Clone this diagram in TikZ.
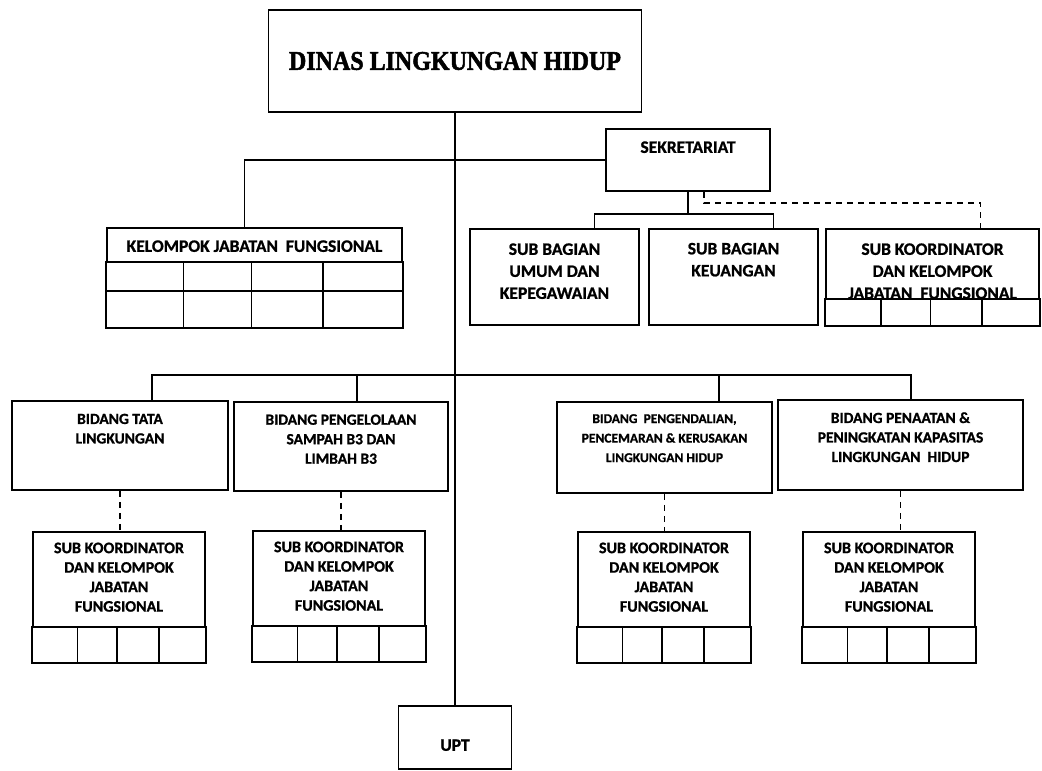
\documentclass[tikz,border=0pt]{standalone}
\usepackage{fontspec}
\usepackage{graphicx}
\setmainfont{Carlito}[BoldFeatures={FakeBold=1}]
\newfontfamily\judulfont{Liberation Serif}[BoldFeatures={FakeBold=2}]
\usetikzlibrary{calc}

% baris petak kosong di bawah kotak jabatan fungsional
\newcommand{\petak}[2]{%
  \filldraw[fill=white, line width=1.6pt] ([yshift=#2pt]#1.south west) rectangle (#1.south east);
  \foreach \f in {0.26,0.49,0.73}
    \draw[line width=1.6pt] ($(#1.south west)!\f!(#1.south east)$) -- ++(0,-#2);
}

\begin{document}
\begin{tikzpicture}[x=1pt, y=-1pt,
    kotak/.style={draw, line width=1.6pt, inner sep=0pt},
    atas/.style={font=\fontsize{17.5}{22}\selectfont\bfseries, align=center, inner sep=0pt},
    bawah/.style={font=\fontsize{16}{19.5}\selectfont\bfseries, align=center, inner sep=0pt},
    bidang/.style={font=\fontsize{15.5}{19.5}\selectfont\bfseries, align=center, inner sep=0pt},
    putus/.style={line width=1.4pt, dash pattern=on 6pt off 5pt},
    garis/.style={line width=1.6pt}]

  \useasboundingbox (0,0) rectangle (1042,771);

  % pimpinan
  \node[kotak, minimum width=373pt, minimum height=102pt,
    font=\judulfont\fontsize{24}{26}\selectfont\bfseries] (dinas) at (455,61)
    {\scalebox{1}[1.12]{DINAS LINGKUNGAN HIDUP}};

  % sekretariat
  \node[kotak, minimum width=164pt, minimum height=62pt] (sekre) at (688,160) {};
  \node[atas] (sekreT) at ([yshift=-19pt]sekre.north) {SEKRETARIAT};

  \node[kotak, minimum width=169pt, minimum height=96pt] (sbu) at (554.5,277) {};
  \node[atas] (sbuT) at ([yshift=-43pt]sbu.north) {SUB BAGIAN\\UMUM DAN\\KEPEGAWAIAN};
  \node[kotak, minimum width=169pt, minimum height=96pt] (sbk) at (733.5,277) {};
  \node[atas] (sbkT) at ([yshift=-31.5pt]sbk.north) {SUB BAGIAN\\KEUANGAN};
  \node[kotak, minimum width=213pt, minimum height=96pt] (skjf) at (932.5,277) {};
  \node[atas] (skjfT) at ([yshift=-43pt]skjf.north) {SUB KOORDINATOR\\DAN KELOMPOK\\JABATAN\ \ FUNGSIONAL};
  \petak{skjf}{27}

  % kelompok jabatan fungsional
  \node[kotak, minimum width=295pt, minimum height=99pt] (kjf) at (254.5,277.5) {};
  \node[atas] (kjfT) at ([yshift=-19pt]kjf.north) {KELOMPOK JABATAN\ \ FUNGSIONAL};
  \petak{kjf}{66}
  \draw[garis] ([yshift=37pt]kjf.south west) -- ([yshift=37pt]kjf.south east);

  % bidang
  \node[kotak, minimum width=216pt, minimum height=89pt] (tata) at (120,445.5) {};
  \node[bidang] (tataT) at ([yshift=-28.5pt]tata.north) {BIDANG TATA\\LINGKUNGAN};
  \node[kotak, minimum width=214pt, minimum height=89pt] (sampah) at (341,446.5) {};
  \node[bidang] (sampahT) at ([yshift=-38pt]sampah.north) {BIDANG PENGELOLAAN\\SAMPAH B3 DAN\\LIMBAH B3};
  \node[kotak, minimum width=215pt, minimum height=91pt] (kendali) at (664.5,447.5) {};
  \node[bidang, font=\fontsize{13.5}{19.5}\selectfont\bfseries] (kendaliT) at ([yshift=-37pt]kendali.north)
    {BIDANG\ \ PENGENDALIAN,\\PENCEMARAN \& KERUSAKAN\\LINGKUNGAN HIDUP};
  \node[kotak, minimum width=245pt, minimum height=90pt] (taat) at (900.5,445) {};
  \node[bidang] (taatT) at ([yshift=-38pt]taat.north) {BIDANG PENAATAN \&\\PENINGKATAN KAPASITAS\\LINGKUNGAN\ \ HIDUP};

  % sub koordinator
  \node[kotak, minimum width=172pt, minimum height=130pt] (sk1) at (119,597) {};
  \node[bawah] (sk1T) at ([yshift=-46pt]sk1.north) {SUB KOORDINATOR\\DAN KELOMPOK\\JABATAN\\FUNGSIONAL};
  \petak{sk1}{36}
  \node[kotak, minimum width=172pt, minimum height=130pt] (sk2) at (339,596) {};
  \node[bawah] (sk2T) at ([yshift=-46pt]sk2.north) {SUB KOORDINATOR\\DAN KELOMPOK\\JABATAN\\FUNGSIONAL};
  \petak{sk2}{36}
  \node[kotak, minimum width=172pt, minimum height=130pt] (sk3) at (664,597) {};
  \node[bawah] (sk3T) at ([yshift=-46pt]sk3.north) {SUB KOORDINATOR\\DAN KELOMPOK\\JABATAN\\FUNGSIONAL};
  \petak{sk3}{36}
  \node[kotak, minimum width=172pt, minimum height=130pt] (sk4) at (889,597) {};
  \node[bawah] (sk4T) at ([yshift=-46pt]sk4.north) {SUB KOORDINATOR\\DAN KELOMPOK\\JABATAN\\FUNGSIONAL};
  \petak{sk4}{36}

  % upt
  \node[kotak, minimum width=113pt, minimum height=63pt] (upt) at (455,737.5) {};
  \node[atas] (uptT) at ([yshift=-40pt]upt.north) {UPT};

  % garis komando
  \draw[garis] (dinas) -- (upt);
  \draw[garis] ([xshift=-10pt]kjf.north) |- (sekre.west);
  \draw[garis] (sekre.south) -- ++(0,22) coordinate (simpul);
  \draw[garis] ([xshift=40pt]sbu.north) |- (simpul) -| ([xshift=40pt]sbk.north);
  \draw[putus] ([xshift=16pt]sekre.south) -- ++(0,11) -| ([xshift=48pt]skjf.north);

  \coordinate (cabang) at (455,375);
  \coordinate (t1) at ([xshift=32pt]tata.north);
  \coordinate (t2) at ([xshift=16pt]sampah.north);
  \coordinate (t3) at ([xshift=54.5pt]kendali.north);
  \coordinate (t4) at ([xshift=10.5pt]taat.north);
  \draw[garis] (t1) |- (cabang) -| (t4);
  \draw[garis] (t2) -- (t2 |- cabang);
  \draw[garis] (t3) -- (t3 |- cabang);

  % garis koordinasi
  \foreach \b/\s in {tata/sk1, sampah/sk2, kendali/sk3, taat/sk4}
    \draw[putus] (\b.south) -- (\b.south |- \s.north);
\end{tikzpicture}
\end{document}
